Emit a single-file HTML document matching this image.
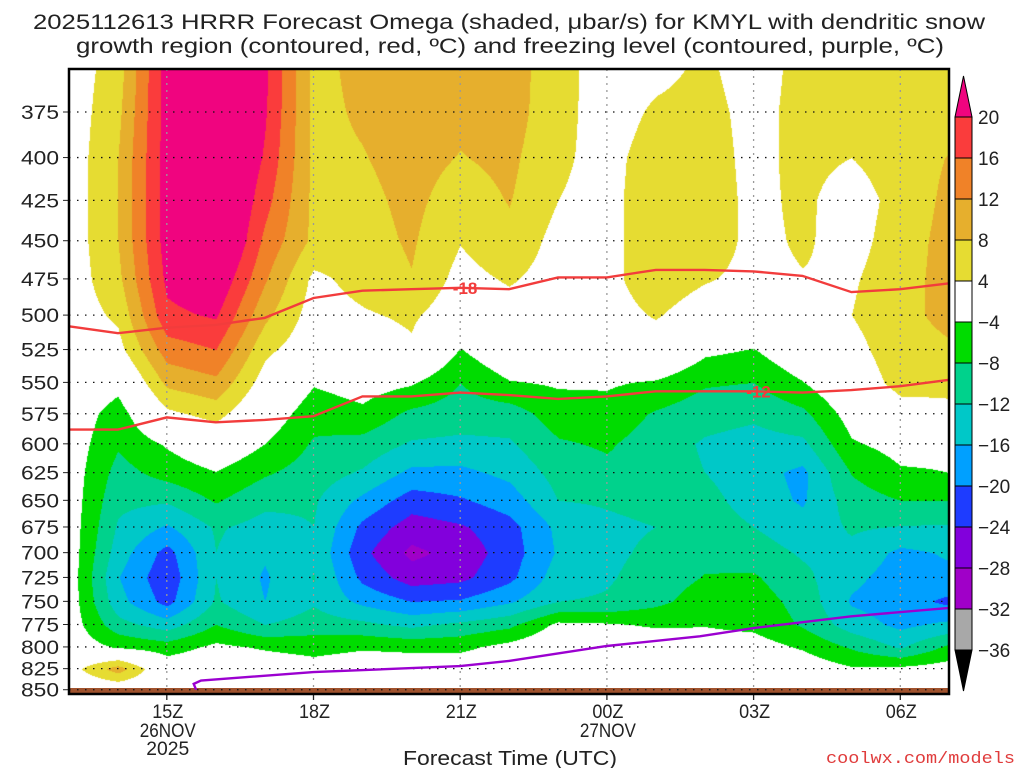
<!DOCTYPE html>
<html><head><meta charset="utf-8"><style>
html,body{margin:0;padding:0;background:#fff;width:1024px;height:768px;overflow:hidden}
#wrap{position:relative;width:1024px;height:768px}
canvas,svg{position:absolute;left:0;top:0}
text{font-family:"Liberation Sans",sans-serif;fill:#222}
</style></head><body>
<div id="wrap">
<canvas id="cv" width="1024" height="768"></canvas>
<svg id="sv" width="1024" height="768"></svg>
</div>
<script>
// ---- data ----
const hours = [13,14,15,16,17,18,19,20,21,22,23,24,25,26,27,28,29,30,31];
const levels = [350,375,400,425,450,475,500,525,550,575,600,625,650,675,700,725,750,775,800,825,850];
const omega13 = [1.5,1.5,1.5,1.5,1.5,1.5,1.5,1,0,-1,-1.5,-1.5,-1.5,-1.5,-1.5,-1.5,-1.5,-1.5,-1,2,0];
const omega14 = [6,7,8,8,8,7,4.8,2.5,-2.5,-6,-7.5,-9.5,-11,-12.5,-14,-15.8,-14.5,-10.5,-4.5,10,0];
const omega15 = [22,22,22,22,22,21,19,14,9,3,-3.5,-6.5,-11.5,-16.5,-21.5,-23,-21.5,-14,-6,-1,0];
const omega16 = [28,28,28,28,28,24,20.5,16,11,5.5,0,-4.2,-7.6,-11.5,-12,-12,-11.5,-8,-3,0,0];
const omega17 = [21,20.5,19.5,17.5,15,12.5,9,5,2,-1,-4,-7.5,-11,-13.5,-15.5,-16.5,-16,-12,-4.5,-1,0];
const omega18 = [7,7,7,7,7,3,2,1,-3.6,-6.5,-8.5,-10,-11.5,-12,-12.5,-11.8,-12.5,-10,-5.5,-2,0];
const omega19 = [9,8.5,7.8,7,6.5,5.5,3.5,1,-2,-5,-9.5,-12.5,-17,-21,-23,-21,-17,-11,-4.5,-1,0];
const omega20 = [10,10,9.5,9,8.5,7.8,4.7,3.3,-3.5,-9,-12.5,-17,-22,-26,-29,-26,-20,-13,-5,-1,0];
const omega21 = [10,9,7.8,6,4.2,2.5,1,-4.2,-8,-10,-13,-17,-20.5,-24.5,-26.5,-25,-19.5,-11,-5,-1,0];
const omega22 = [10,10,9,8.2,7,4.5,2,0,-4.3,-10,-12.5,-15,-18,-21.5,-22,-21,-16.5,-9,-2.5,0,0];
const omega23 = [5.5,5,4.5,4,2.5,2,1,0,-3.5,-6,-8.5,-10.5,-12,-15,-15.5,-14,-12,-3,0,0,0];
const omega24 = [2,2.5,3,3,3,3,2.5,1,-3.5,-5.5,-7.5,-9,-11.5,-13,-13,-12.5,-11.5,-3.5,-1,0,0];
const omega25 = [3,4.5,5.5,6,6,6,4.3,2,-4.5,-8.5,-10,-10,-10.5,-12,-11,-10,-9,-4.5,-1,0,0];
const omega26 = [4.5,5,5.5,6,6,4.3,2,-3,-7.5,-10.5,-12.5,-12,-10.5,-9.5,-9,-7.8,-6,-4.2,-2,0,0];
const omega27 = [2.5,3,3,3,3,3,2,-4.2,-8,-11.3,-13.5,-14.5,-14,-12,-10,-7.5,-6,-5,-2,0,0];
const omega28 = [5,5,5,4.8,4.5,3.8,2,0,-4.2,-9,-13,-17,-16.5,-14.5,-12.5,-11,-9.5,-8.5,-4.5,-1,0];
const omega29 = [6,5.5,4,2,2.5,3.5,4,2.5,1,-2,-4.5,-7.8,-10,-11.5,-13,-15,-16.5,-14,-8.5,-3.5,0];
const omega30 = [7,6.5,6,5.5,6,6.5,7,6.5,5.5,2,-2.5,-4.5,-8,-12.2,-17,-18,-18,-17,-12.5,-3,0];
const omega31 = [6,6,8.2,9,9.5,9.5,9,7.5,5,3,-3,-4,-8,-12.5,-15.5,-17,-21,-15,-7,-2,0];
const omegaCols = [omega13,omega14,omega15,omega16,omega17,omega18,omega19,omega20,omega21,omega22,omega23,omega24,omega25,omega26,omega27,omega28,omega29,omega30,omega31];

const bandEdges = [20,16,12,8,4,-4,-8,-12,-16,-20,-24,-28,-32,-36];
const bandColors = ['#f0047f','#fa3c3c','#f08228','#e6af2d','#e6dc32','#ffffff','#00dc00','#00d28c','#00c8c8','#00a0ff','#1e3cff','#8200dc','#a000c8','#a8a8a8','#000000'];

const isoHours = [13,14,15,16,17,18,19,20,21,22,23,24,25,26,27,28,29,30,31];
const isoM18 = [508,513,509,507,502,488,483,482,481,482,474,474,469,469,470,473,484,482,478];
const isoM12 = [588,588,578,582,580,577,561,561,558,560,563,561,557,557,557,558,556,553,548];
const frzHours = [15.6,15.55,15.7,18,21,22,24,25.9,27,29,31];
const frzP = [850,843,839,829,822,816,799,788,779,766,757];

const yTicks = [375,400,425,450,475,500,525,550,575,600,625,650,675,700,725,750,775,800,825,850];
const xTickHours = [15,18,21,24,27,30];
const xTickLabels = ['15Z','18Z','21Z','00Z','03Z','06Z'];

// ---- axes ----
const X0=69, PX=48.9, PL=69, PR=949, PT=69, PB=694;
function xOf(h){return X0+(h-13)*PX;}
function yOf(p){return 112+706*Math.log(p/375);}
function pOf(y){return 375*Math.exp((y-112)/706);}
function colorOf(v){
  for(let i=0;i<bandEdges.length;i++){ if(v>=bandEdges[i]) return bandColors[i]; }
  return bandColors[bandColors.length-1];
}
function hex(c){return [parseInt(c.substr(1,2),16),parseInt(c.substr(3,2),16),parseInt(c.substr(5,2),16)];}

// ---- shading ----
const cv=document.getElementById('cv'); const ctx=cv.getContext('2d');
const img=ctx.createImageData(1024,768);
for(let y=PT;y<689;y++){
  const p=pOf(y); let r=(p-levels[0])/25; if(r<0)r=0; if(r>levels.length-1)r=levels.length-1;
  const r0=Math.min(Math.floor(r),levels.length-2), fr=r-r0;
  for(let x=PL;x<PR;x++){
    let c=(x-X0)/PX; if(c<0)c=0; if(c>hours.length-1)c=hours.length-1;
    const c0=Math.min(Math.floor(c),hours.length-2), fc=c-c0;
    const a=omegaCols[c0][r0],b=omegaCols[c0+1][r0],d=omegaCols[c0][r0+1],e=omegaCols[c0+1][r0+1];
    const v=(a*(1-fc)+b*fc)*(1-fr)+(d*(1-fc)+e*fc)*fr;
    const rgb=hex(colorOf(v)); const k=(y*1024+x)*4;
    img.data[k]=rgb[0];img.data[k+1]=rgb[1];img.data[k+2]=rgb[2];img.data[k+3]=255;
  }
}
ctx.putImageData(img,0,0);

// ---- overlay ----
const NS='http://www.w3.org/2000/svg'; const sv=document.getElementById('sv');
function mk(t,at,parent){const e=document.createElementNS(NS,t);for(const k in at)e.setAttribute(k,at[k]);(parent||sv).appendChild(e);return e;}

// ground
const gr=mk('rect',{x:PL,y:688,width:PR-PL,height:PB-688,fill:'#a0522d'});



// horizontal grid + y labels
yTicks.forEach(p=>{
  const y=yOf(p);
  const g=mk('line',{x1:PL,x2:PR,y1:y,y2:y,stroke:'#111','stroke-width':1.3,'stroke-dasharray':'1.5 6.5'});
  
  
  const tk=mk('line',{x1:PL-6,x2:PL,y1:y,y2:y,stroke:'#222','stroke-width':1});
  
  
  const t=mk('text',{x:59,y:y+7,'text-anchor':'end','font-size':19,textLength:38,lengthAdjust:'spacingAndGlyphs'});
  t.textContent=p;
  
  
});
// vertical grid + x labels
xTickHours.forEach((h,i)=>{
  const x=xOf(h);
  const g=mk('line',{x1:x,x2:x,y1:PT,y2:688,stroke:'#999','stroke-width':1.3,'stroke-dasharray':'2 5'});
  
  
  const tk=mk('line',{x1:x,x2:x,y1:PB,y2:PB+6,stroke:'#222','stroke-width':1.3});
  
  
  const t=mk('text',{x:x+1,y:718,'text-anchor':'middle','font-size':19,textLength:31,lengthAdjust:'spacingAndGlyphs'});
  t.textContent=xTickLabels[i];
  
  
});
[[15,'26NOV','2025'],[24,'27NOV',null]].forEach(d=>{
  const x=xOf(d[0])+1;
  const t=mk('text',{x:x,y:737,'text-anchor':'middle','font-size':19,textLength:56,lengthAdjust:'spacingAndGlyphs'});
  t.textContent=d[1];
  
  
  if(d[2]){const t2=mk('text',{x:x,y:755,'text-anchor':'middle','font-size':19,textLength:43,lengthAdjust:'spacingAndGlyphs'});
    t2.textContent=d[2];
    
    }
});

// isotherms
function linePath(hs,ps){return hs.map((h,i)=>(i?'L':'M')+xOf(h).toFixed(1)+' '+yOf(ps[i]).toFixed(1)).join(' ');}
const l18=mk('path',{d:linePath(isoHours,isoM18),fill:'none',stroke:'#f23c3c','stroke-width':2.4});


const l12=mk('path',{d:linePath(isoHours,isoM12),fill:'none',stroke:'#f23c3c','stroke-width':2.4});


const fz=mk('path',{d:linePath(frzHours,frzP),fill:'none',stroke:'#9b00d0','stroke-width':2.4});


[[21.1,isoM18[8],'-18'],[27.1,isoM12[14],'-12']].forEach(d=>{
  const x=xOf(d[0]),y=yOf(d[1]);
  const t=mk('text',{x:x,y:y+6,'text-anchor':'middle','font-size':17,'font-weight':'bold',style:'fill:#f23c3c'});
  t.textContent=d[2];
  
  
});

// plot frame
const fr=mk('rect',{x:PL,y:PT,width:PR-PL,height:PB-PT,fill:'none',stroke:'#000','stroke-width':2.5});



// colorbar
const CBX=955,CBW=17,CBT=117,CBS=41;
const cb=mk('g',{});


const tri1=mk('polygon',{points:`${CBX},${CBT} ${CBX+CBW},${CBT} ${CBX+CBW/2},${CBT-41}`,fill:bandColors[0],stroke:'#000','stroke-width':1},cb);


for(let i=0;i<bandEdges.length-1;i++){
  const r=mk('rect',{x:CBX,y:CBT+i*CBS,width:CBW,height:CBS,fill:bandColors[i+1],stroke:'#000','stroke-width':1},cb);
  
  
}
const yb=CBT+(bandEdges.length-1)*CBS;
const tri2=mk('polygon',{points:`${CBX},${yb} ${CBX+CBW},${yb} ${CBX+CBW/2},${yb+41}`,fill:'#000',stroke:'#000','stroke-width':1},cb);


bandEdges.forEach((v,i)=>{
  const t=mk('text',{x:978,y:CBT+i*CBS+7,'font-size':19},cb);
  t.textContent=v<0?'\u2212'+(-v):String(v);
  
  
});

// titles
const t1=mk('text',{x:509,y:29,'text-anchor':'middle','font-size':21,textLength:952,lengthAdjust:'spacingAndGlyphs'});
t1.textContent='2025112613 HRRR Forecast Omega (shaded, \u03bcbar/s) for KMYL with dendritic snow';


const t2=mk('text',{x:510,y:53,'text-anchor':'middle','font-size':21,textLength:868,lengthAdjust:'spacingAndGlyphs'});
t2.textContent='growth region (contoured, red, \u00baC) and freezing level (contoured, purple, \u00baC)';


const xt=mk('text',{x:510,y:765,'text-anchor':'middle','font-size':20,textLength:214,lengthAdjust:'spacingAndGlyphs'});
xt.textContent='Forecast Time (UTC)';


const wm=mk('text',{x:826,y:763,'font-size':17,textLength:189,lengthAdjust:'spacingAndGlyphs',style:'fill:#e03c3c;font-family:"Liberation Mono",monospace'});
wm.textContent='coolwx.com/models';


</script>
</body></html>
